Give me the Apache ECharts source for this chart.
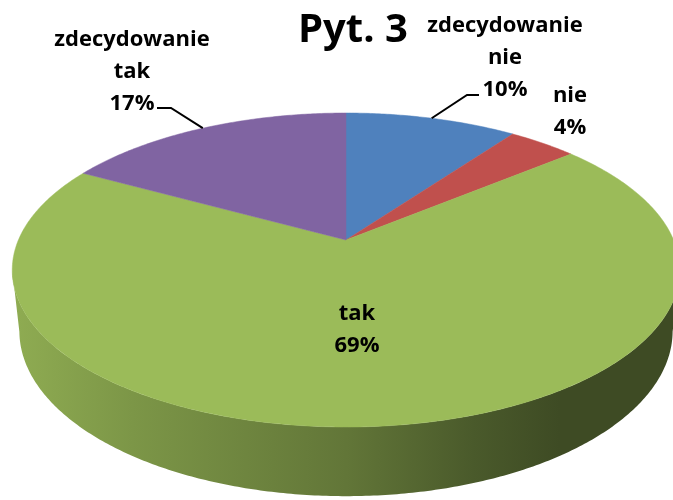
<!DOCTYPE html>
<html lang="pl">
<head>
<meta charset="UTF-8">
<title>Pyt. 3</title>
<script src="https://cdn.jsdelivr.net/npm/echarts@6/dist/echarts.min.js"></script>
<style>html, body { margin: 0; padding: 0; background: #fff; }</style>
</head>
<body>
<div id="main" style="width: 673px; height: 500px;"></div>
<script type="text/javascript">
// dane wykresu
var categories = ['zdecydowanie nie', 'nie', 'tak', 'zdecydowanie tak'];
var values = [10, 4, 69, 17];
var colors = ['#4F81BD', '#C0504D', '#9BBB59', '#8064A2'];

// widok 3D: srodek, ogniskowa, odleglosc kamery, nachylenie, grubosc
var view = { cx: 346, cy: 240, f: 1520, dist: 4.64, tilt: 27.5 * Math.PI / 180, depth: 0.211 };
var cosA = Math.cos(view.tilt), sinA = Math.sin(view.tilt);

// polozenie etykiet (srodek bloku tekstu) i punkty zalaman linii odniesienia
var labelLayout = [
	{ x: 505, y: 58, elbow: [[467, 95], [479, 95]] },
	{ x: 570, y: 112 },
	{ x: 357, y: 330 },
	{ x: 132, y: 72, elbow: [[171, 108], [157, 108]] }
];

var total = values.reduce(function (s, v) { return s + v; }, 0);
var angles = [0];
values.forEach(function (v, i) { angles.push(angles[i] + v / total * Math.PI * 2); });

// rzut punktu tarczy (kat od gory zgodnie z zegarem, promien, wysokosc)
function project(theta, r, z) {
	var X = r * Math.sin(theta), Y = r * Math.cos(theta);
	var d = view.dist + Y * cosA - z * sinA;
	var up = Y * sinA + z * cosA;
	return [view.cx + view.f * X / d, view.cy - view.f * up / d];
}

function arc(a0, a1, z) {
	var pts = [], n = Math.max(2, Math.ceil((a1 - a0) / 0.01));
	for (var k = 0; k <= n; k++) pts.push(project(a0 + (a1 - a0) * k / n, 1, z));
	return pts;
}

function shade(hex, k) {
	var c = parseInt(hex.slice(1), 16);
	var r = Math.round(((c >> 16) & 255) * k), g = Math.round(((c >> 8) & 255) * k), b = Math.round((c & 255) * k);
	return 'rgb(' + r + ',' + g + ',' + b + ')';
}

// widoczna czesc bocznej sciany
var visFrom = Math.acos(-cosA / view.dist), visTo = Math.PI * 2 - visFrom;

function renderWall(params, api) {
	var i = params.dataIndex;
	var a0 = Math.max(angles[i], visFrom), a1 = Math.min(angles[i + 1], visTo);
	if (a1 <= a0) return null;
	var pts = arc(a0, a1, 0).concat(arc(a0, a1, -view.depth).reverse());
	var base = colors[i];
	return {
		type: 'polygon',
		shape: { points: pts },
		style: {
			fill: new echarts.graphic.LinearGradient(0, 0, 1, 0, [
				{ offset: 0, color: shade(base, 0.92) },
				{ offset: 0.18, color: shade(base, 0.8) },
				{ offset: 0.5, color: shade(base, 0.63) },
				{ offset: 0.69, color: shade(base, 0.48) },
				{ offset: 0.82, color: shade(base, 0.4) },
				{ offset: 1, color: shade(base, 0.4) }
			])
		}
	};
}

function renderTop(params, api) {
	var i = params.dataIndex;
	var pts = [project(0, 0, 0)].concat(arc(angles[i], angles[i + 1], 0));
	return {
		type: 'polygon',
		shape: { points: pts },
		style: { fill: colors[i], stroke: colors[i], lineWidth: 0.5 }
	};
}

function renderLabel(params, api) {
	var i = params.dataIndex;
	var lay = labelLayout[i];
	var text = categories[i].replace(' ', '\n') + '\n' + Math.round(values[i] / total * 100) + '%';
	var children = [{
		type: 'text',
		style: {
			x: lay.x, y: lay.y, text: text,
			fill: '#000', fontFamily: 'Open Sans', fontWeight: 'bold', fontSize: 22,
			lineHeight: 32, align: 'center', verticalAlign: 'middle'
		}
	}];
	if (lay.elbow) {
		var mid = (angles[i] + angles[i + 1]) / 2;
		children.push({
			type: 'polyline',
			shape: { points: [project(mid, 1, 0)].concat(lay.elbow) },
			style: { stroke: '#000', lineWidth: 2, fill: null }
		});
	}
	return { type: 'group', children: children };
}

var myChart = echarts.init(document.getElementById('main'));
var option = {
	animation: false,
	title: {
		text: 'Pyt. 3',
		left: 293,
		top: 6,
		textStyle: { fontFamily: 'Open Sans', fontWeight: 'bold', fontSize: 40, color: '#000' }
	},
	series: [
		{ type: 'custom', coordinateSystem: 'none', z: 1, data: values, renderItem: renderWall },
		{ type: 'custom', coordinateSystem: 'none', z: 2, data: values, renderItem: renderTop },
		{ type: 'custom', coordinateSystem: 'none', z: 3, data: values, renderItem: renderLabel }
	]
};
myChart.setOption(option);
</script>
</body>
</html>
